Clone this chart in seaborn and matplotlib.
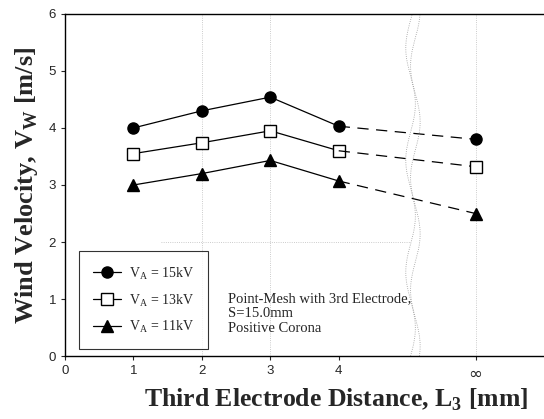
import numpy as np
import pandas as pd
import seaborn as sns
import matplotlib.pyplot as plt

# data
x_pos = [1, 2, 3, 4, 6]            # 6 = infinity position
x_labels = ['0', '1', '2', '3', '4', '∞']
v15 = [4.0, 4.3, 4.54, 4.03, 3.8]
v13 = [3.55, 3.74, 3.95, 3.6, 3.32]
v11 = [3.0, 3.2, 3.43, 3.07, 2.5]
names = [r'V$_\mathregular{A}$ = 15kV', r'V$_\mathregular{A}$ = 13kV', r'V$_\mathregular{A}$ = 11kV']
markers = ['o', 's', '^']
faces = ['black', 'white', 'black']

sns.set_style('white')
plt.rcParams['font.family'] = ['Liberation Sans', 'DejaVu Sans']
plt.rcParams['mathtext.fontset'] = 'custom'
plt.rcParams['mathtext.rm'] = 'Liberation Serif'

fig = plt.figure(figsize=(5.44, 4.19), dpi=100)
ax = fig.add_axes([0.1195, 0.150, 0.8805, 0.817])

for vals, name, m, fc in zip([v15, v13, v11], names, markers, faces):
    df = pd.DataFrame({'x': x_pos, 'y': vals})
    sns.lineplot(data=df.iloc[:4], x='x', y='y', ax=ax, color='black', lw=0.9,
                 marker=m, markersize=8, markerfacecolor=fc, markeredgecolor='black',
                 markeredgewidth=1, label=name)
    tail = df.iloc[3:]
    ax.plot(tail['x'], tail['y'], color='black', lw=0.9, linestyle=(0, (9, 6)))
    ax.plot(df['x'].iloc[4], df['y'].iloc[4], marker=m, markersize=8, color='black',
            markerfacecolor=fc, markeredgecolor='black', markeredgewidth=1)

# faint dotted grid
for gx in [2, 3, 6]:
    ax.axvline(gx, color='#bbbbbb', lw=0.6, ls=':', zorder=0)
ax.axhline(2, xmin=0.2, xmax=0.72, color='#bbbbbb', lw=0.6, ls=':', zorder=0)

# axis break decoration
yy = np.linspace(0, 6, 200)
ax.plot(5.05 + 0.07 * np.sin(yy * 3.2), yy, color='#999999', lw=0.6, ls=':')
ax.plot(5.12 + 0.07 * np.sin(yy * 3.2 + 1), yy, color='#999999', lw=0.6, ls=':')

ax.set_xlim(0, 7)
ax.set_ylim(0, 6)
ax.set_xticks([0, 1, 2, 3, 4, 6])
ax.set_xticklabels(x_labels)
ax.set_yticks([0, 1, 2, 3, 4, 5, 6])
ax.tick_params(axis='both', direction='out', length=3, width=0.8, labelsize=9.5,
               bottom=True, left=True)
ax.get_xticklabels()[-1].set_fontsize(12)
ax.get_xticklabels()[-1].set_family('DejaVu Sans')
for s in ['left', 'bottom', 'top']:
    ax.spines[s].set_color('black')
    ax.spines[s].set_linewidth(1)
ax.spines['right'].set_visible(False)

ax.set_xlabel('Third Electrode Distance, L$_\\mathregular{3}$ [mm]', family='Liberation Serif',
              fontsize=18.5, fontweight='bold')
ax.xaxis.set_label_coords(0.565, -0.088)
ax.set_ylabel('Wind Velocity, V$_\\mathregular{W}$ [m/s]', family='Liberation Serif',
              fontsize=19, fontweight='bold', labelpad=6)

leg = ax.legend(loc='lower left', bbox_to_anchor=(0.015, 0.0), frameon=True, fancybox=False,
                edgecolor='black', handlelength=2.0, handletextpad=0.6, borderpad=1.0,
                labelspacing=0.75, prop={'family': 'Liberation Serif', 'size': 10})
leg.get_frame().set_linewidth(0.8)

ax.text(0.34, 0.188, 'Point-Mesh with 3rd Electrode,\nS=15.0mm\nPositive Corona',
        transform=ax.transAxes, family='Liberation Serif', fontsize=10.5, va='top',
        linespacing=1.2)

fig.savefig('out.png', dpi=100)
